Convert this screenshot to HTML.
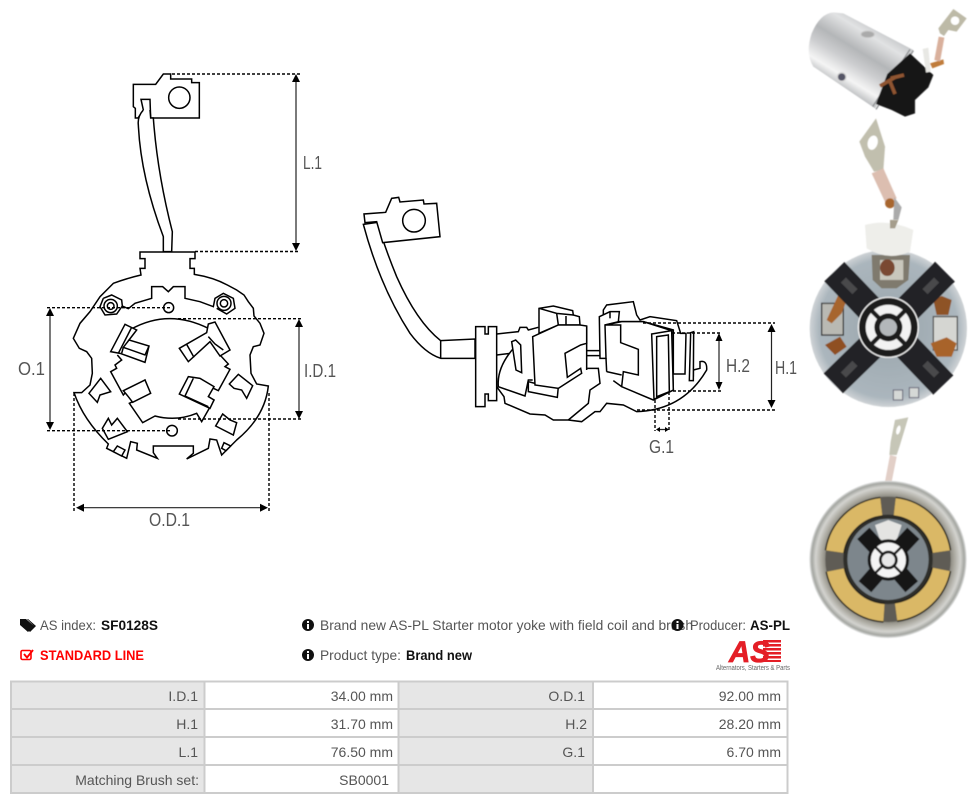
<!DOCTYPE html>
<html><head><meta charset="utf-8"><title>SF0128S</title>
<style>
html,body{margin:0;padding:0;background:#fff;width:976px;height:804px;overflow:hidden}
svg{display:block;position:absolute;left:0;top:0}
text{font-family:"Liberation Sans",sans-serif}
.t{font-size:14px;fill:#555}
.b{font-size:14px;font-weight:bold;fill:#111}
.r{text-anchor:end}
.d{font-size:18px;fill:#555}
.k{fill:none;stroke:#000;stroke-linejoin:miter}
.w{fill:#fff;stroke:#000;stroke-linejoin:miter}
.dash{fill:none;stroke:#000;stroke-width:1.4;stroke-dasharray:3 2}
.dim{stroke:#222;stroke-width:1.2;fill:none}
.ah{fill:#000}
</style></head><body>
<svg width="976" height="804" viewBox="0 0 976 804" xmlns="http://www.w3.org/2000/svg">
<defs>
<linearGradient id="cyl" gradientUnits="userSpaceOnUse" x1="235" y1="85" x2="125" y2="265">
<stop offset="0" stop-color="#c8cacc"/><stop offset=".15" stop-color="#e2e3e4"/><stop offset=".42" stop-color="#b4b6b8"/><stop offset=".62" stop-color="#cdced0"/><stop offset=".84" stop-color="#f5f5f5"/><stop offset="1" stop-color="#bcbec0"/>
</linearGradient>
<radialGradient id="disc"><stop offset="0" stop-color="#9aa5ac"/><stop offset=".88" stop-color="#abb6bd"/><stop offset="1" stop-color="#cfd3d6"/></radialGradient>
<radialGradient id="ring"><stop offset=".76" stop-color="#77756c"/><stop offset=".84" stop-color="#a9a79e"/><stop offset=".92" stop-color="#d4d4d0"/><stop offset=".97" stop-color="#a3a5a0"/><stop offset="1" stop-color="#e6e7e7"/></radialGradient>
<filter id="soft" x="-5%" y="-5%" width="110%" height="110%"><feGaussianBlur stdDeviation="1.6"/></filter>
</defs>

<!-- LEFT DRAWING: terminal and braid -->
<g transform="translate(120,60) scale(.33333)" stroke-width="4.5">
<path class="w" d="M40,73 L107,73 L130,42 L152,42 L152,57 L215,57 L215,68 L238,68 L238,174 L92,174 L90,118 L63,118 L70,150 L54,174 L46,174 L46,145 L40,140 Z"/>
<circle class="w" cx="178" cy="113" r="32"/>
<path class="w" d="M70,150 Q52,170 55,195 Q62,350 130,530 L130,575 L155,575 L157,515 Q112,340 100,174 L92,174 L90,150"/>
</g>

<!-- LEFT DRAWING: plate -->
<g transform="translate(40,240) scale(.33333)" stroke-width="4.5">
<path class="w" d="M300,36 L465,36 L465,56 L450,56 L450,85 L463,85 L463,103 Q520,112 562,135 L590,150 L612,165 L625,185 L640,205 L642,228 L660,250 L672,280 L660,315 L640,320 L630,345 L633,400 L650,432 L685,438 Q675,530 590,600 L545,645 L530,600 L510,597 L505,625 L440,657 L460,640 L460,618 L340,618 L340,638 L352,655 L290,630 L292,610 L272,605 L260,655 L200,625 L205,612 Q130,540 102,458 L125,458 L150,435 L157,400 L155,355 L140,335 L118,325 L100,295 L120,250 L150,215 L180,170 L220,130 Q260,115 303,105 L300,85 L315,85 L315,56 L300,56 Z"/>
<path class="k" d="M190,175 L215,165 L245,180 L247,198 L265,206 L285,190 L335,175 L335,140 L368,140 L385,155 L400,140 L435,140 L435,175 L480,185 L520,200 L525,175 L550,160 L580,175 L585,205 L560,222 L530,205 M190,175 L180,200 L195,225 L230,222 L247,198"/>
<circle class="k" cx="212" cy="198" r="20"/><circle class="k" cx="212" cy="198" r="10"/>
<circle class="k" cx="552" cy="190" r="21"/><circle class="k" cx="552" cy="190" r="11"/>
<circle class="w" cx="386" cy="203" r="15"/><circle class="w" cx="396" cy="572" r="16"/>
<!-- central opening -->
<path class="k" d="M272,268 Q385,205 505,265 M540,345 L565,372 L555,380 L570,388 L535,452 L510,440 L505,470 L522,480 L485,545 L470,520 Q410,545 345,528 L308,548 L268,490 L330,460 L315,420 L262,452 L250,465 L212,395 L230,385 L225,375 L245,360 L232,345"/>
<path class="w" d="M255,253 L290,270 L267,300 L327,318 L315,367 L240,340 L212,335 Z"/>
<path class="k" d="M275,262 L235,340 M267,300 L250,322 L315,345 L327,318 M250,322 L245,340"/>
<path class="w" d="M418,325 L500,278 L505,252 L525,246 L570,330 L540,348 L510,305 L445,365 Z"/>
<path class="k" d="M440,313 L462,352 M505,290 L525,312 L550,330"/>
<path class="w" d="M445,410 L480,415 L522,440 L505,470 L522,480 L510,505 L418,462 Z"/>
<path class="k" d="M460,415 L435,468 L505,500"/>
<path class="w" d="M250,452 L315,420 L332,460 L278,487 L265,470 Z"/>
<path class="w" d="M182,415 L212,455 L180,465 L172,487 L147,460 Z"/>
<path class="w" d="M595,403 L638,437 L620,475 L605,450 L582,445 L568,432 Z"/>
<path class="w" d="M205,535 L215,555 L232,535 L262,575 L205,598 L187,565 Z"/>
<path class="w" d="M548,522 L570,540 L590,548 L580,585 L527,558 Z"/>
<path class="w" d="M232,618 L255,630 L245,648 L220,635 Z"/>
<path class="w" d="M552,608 L572,618 L558,632 L545,625 Z"/>
</g>

<!-- LEFT DIMENSIONS -->
<path class="dash" d="M172,74H300M195,251.5H300M47,307.7H171M47,430.7H172M178,318.7H303M178,419H303M74,393V512M269,393V512"/>
<path class="dim" d="M296,78V247M50,312V426M299,323V415M80,507.7H263"/>
<path class="ah" d="M296,74l-4,8h8zM296,251l-4,-8h8zM50,308l-4,8h8zM50,430l-4,-8h8zM299,319l-4,8h8zM299,419l-4,-8h8zM76,507.7l8,-4v8zM268,507.7l-8,-4v8z"/>
<text class="d" x="303" y="169" textLength="19" lengthAdjust="spacingAndGlyphs">L.1</text>
<text class="d" x="18" y="375" textLength="27" lengthAdjust="spacingAndGlyphs">O.1</text>
<text class="d" x="304" y="377" textLength="32" lengthAdjust="spacingAndGlyphs">I.D.1</text>
<text class="d" x="149" y="526" textLength="41" lengthAdjust="spacingAndGlyphs">O.D.1</text>

<!-- RIGHT DRAWING -->
<g transform="translate(350,190) scale(.33333)" stroke-width="4.5">
<path class="w" d="M40,103 Q90,290 180,430 Q225,490 272,505 L375,505 L375,447 L272,452 Q200,395 140,260 Q105,175 82,97 Z"/>
<path class="k" d="M272,452V505"/>
<path class="w" d="M42,72 L45,98 L80,95 L98,158 L270,140 L260,40 L222,42 L220,30 L150,36 L146,22 L125,25 L107,67 Z"/>
<circle class="w" cx="192" cy="92" r="34"/>
<path class="k" d="M440,590 L462,620 L465,640 L540,672 L585,675 L610,690 L655,690 L695,695 L735,665 L750,665 L770,640 L820,645 L860,665 Q1000,660 1070,540 Q1072,510 1050,515 L1050,535 L1030,540 L1030,560"/>
<path class="k" d="M655,690 L715,640 L720,600 L750,580 L745,535 L712,535"/>
<path class="k" d="M440,432 L505,425 L510,412 L530,412 L535,420 L565,412 M710,408 V540 M710,482 H750 M710,497 H750"/>
<path class="w" d="M567,415 L567,355 L610,348 L668,362 L670,375 L688,380 L690,405 L625,405 L567,430 Z"/>
<path class="k" d="M567,355 L620,370 L670,375 M620,370 L625,405 M648,378 L648,405"/>
<path class="k" d="M440,495 L480,490 M495,470 Q440,530 445,590 L525,618 L535,570 L548,570"/>
<path class="w" d="M485,455 L497,450 L512,465 L515,548 L498,540 Z"/>
<path class="w" d="M535,575 L535,605 L622,622 L625,590 L555,580 Z"/>
<path class="w" d="M548,440 L625,405 L690,405 L710,408 L710,460 L692,465 L645,490 L652,562 L692,535 L695,550 L625,595 L555,585 Z"/>
<path class="w" d="M760,360 L770,345 L850,335 L860,375 L870,390 L900,380 L980,392 L992,430 L1008,430 L1005,552 L970,552 L970,420 L880,395 L810,395 L760,380 Z"/>
<path class="w" d="M748,380 L780,365 L808,365 L805,395 L765,405 L768,505 L750,505 Z"/>
<path class="k" d="M780,365 V385"/>
<path class="w" d="M765,405 L815,395 L880,395 L965,422 L970,600 L910,630 L815,590 L820,545 L865,555 L865,478 L812,458 L812,405 Z"/>
<path class="k" d="M770,545 L815,555 M790,572 L815,590 M768,505 L770,545"/>
<path class="w" d="M905,432 L965,422 L970,600 L912,628 Z"/>
<path class="w" d="M920,440 L955,435 L958,605 L920,620 Z"/>
<path class="w" d="M1022,428 L1031,425 L1030,572 L1018,572 Z"/>
<path class="w" d="M377,410 L405,410 L405,432 L415,432 L415,410 L440,410 L440,632 L415,632 L415,612 L405,612 L405,650 L377,650 Z"/>
</g>

<!-- RIGHT DIMENSIONS -->
<path class="dash" d="M643,323H775M637,410H775M672,333H722M673,391H722M655,400V431M669,392V431"/>
<path class="dim" d="M771.5,328V406M719,337V387M658,429.5H666"/>
<path class="ah" d="M771.5,324l-4,8h8zM771.5,408l-4,-8h8zM719,333l-3.5,8h7zM719,390l-3.5,-8h7zM656,429.5l4,-2.5v5zM669,429.5l-4,-2.5v5z"/>
<text class="d" x="726" y="372" textLength="24" lengthAdjust="spacingAndGlyphs">H.2</text>
<text class="d" x="775" y="374" textLength="22" lengthAdjust="spacingAndGlyphs">H.1</text>
<text class="d" x="649" y="453" textLength="25" lengthAdjust="spacingAndGlyphs">G.1</text>

<!-- PHOTO 1 -->
<g transform="translate(800,0) scale(.33333)" filter="url(#soft)">
<path d="M100,37 Q60,40 35,100 Q15,160 40,200 L225,325 L340,150 L130,40 Z" fill="url(#cyl)"/>
<path d="M330,148 L218,320 M340,152 L228,328" stroke="#8f9193" stroke-width="4" fill="none"/>
<ellipse cx="203" cy="103" rx="20" ry="10" fill="#aaa" stroke="#c9c9c9" stroke-width="3"/>
<circle cx="125" cy="231" r="13" fill="#556" stroke="#d5d5d5" stroke-width="4"/>
<path d="M228,312 L262,222 L330,160 L362,190 L400,225 L385,262 L345,300 L345,340 L315,350 L275,330 Z" fill="#161616"/>
<path d="M240,258 L285,232 M272,235 L312,225 M270,245 L285,282" stroke="#8f5430" stroke-width="11" fill="none"/>
<path d="M368,147 L385,143 L392,215 L378,218Z" fill="#e8e8e4"/>
<path d="M390,190 L430,178 L432,192 L397,205Z" fill="#c07c3a"/>
<path d="M416,110 L433,113 L420,185 L403,180Z" fill="#d9b09c"/>
<path d="M415,85 L460,27 L500,55 L470,95 L445,90 L432,108 L420,100 Z" fill="#bdbaa7"/>
<circle cx="465" cy="62" r="13" fill="#fff"/>
<path d="M178,425 L228,355 L255,440 L250,510 L222,515 L195,470 Z" fill="#c1bfae"/>
<ellipse cx="218" cy="428" rx="15" ry="22" fill="#fff" transform="rotate(15 218 428)"/>
<path d="M215,520 L250,505 L290,595 L258,612 Z" fill="#dcbeb0"/>
<circle cx="270" cy="610" r="15" fill="#a8662e"/>
<path d="M283,592 L305,622 L295,660 L280,660Z" fill="#aaa"/>
</g>

<!-- PHOTO 2 -->
<g transform="translate(800,220) scale(.33333)" filter="url(#soft)">
<circle cx="265" cy="325" r="236" fill="url(#disc)"/>
<path d="M215,105 H330 L325,180 L290,205 L245,205 L218,180Z" fill="#7f7a6e"/>
<path d="M240,120 H310 V180 H240Z" fill="#c9c7bc"/>
<ellipse cx="262" cy="143" rx="22" ry="25" fill="#7a4a30"/>
<path d="M195,15 Q265,-5 340,30 L330,95 Q265,125 200,85Z" fill="#eeeeea"/>
<path d="M270,0 L295,0 L285,25 L270,25Z" fill="#a59d8c"/>
<path d="M65,250 H130 V345 H65Z" fill="#b9b9b3" stroke="#333" stroke-width="4"/><path d="M400,290 H472 V390 H400Z" fill="#d5d6d2" stroke="#555" stroke-width="4"/>
<path d="M80,300 L115,225 L140,240 L125,280 L95,310Z" fill="#a7652f"/>
<path d="M75,375 L120,350 L140,380 L105,405Z" fill="#8f4f22"/>
<path d="M400,240 L425,228 L455,240 L445,285 L410,285Z" fill="#8e5327"/>
<path d="M392,370 L440,352 L470,370 L455,410 L410,410Z" fill="#a8642c"/>
<g stroke="#232325" stroke-width="84" fill="none"><path d="M215,272 L103,155"/><path d="M318,272 L435,155"/><path d="M215,378 L100,490"/><path d="M318,378 L430,495"/></g>
<g stroke="#4a4a4c" stroke-width="22" fill="none"><path d="M165,215 L130,180"/><path d="M375,215 L410,180"/><path d="M165,430 L130,465"/><path d="M375,430 L410,465"/></g>
<circle cx="265" cy="322" r="92" fill="#f2f2f2"/>
<circle cx="265" cy="322" r="88" fill="#1a1a1a"/>
<circle cx="265" cy="322" r="68" fill="#f2f2f2"/>
<path d="M210,267 L320,377 M320,267 L210,377" stroke="#1a1a1a" stroke-width="13"/>
<circle cx="265" cy="322" r="42" fill="#1a1a1a"/>
<circle cx="265" cy="322" r="26" fill="#b3b7ba"/>
<rect x="280" y="510" width="28" height="30" fill="#d5d8d6" stroke="#667" stroke-width="3"/>
<rect x="328" y="503" width="28" height="30" fill="#d5d8d6" stroke="#667" stroke-width="3"/>
</g>

<!-- PHOTO 3 -->
<g transform="translate(800,410) scale(.33333)" filter="url(#soft)">
<path d="M270,135 L290,140 L275,215 L255,215Z" fill="#e2cfc7"/>
<path d="M285,30 L325,22 L300,105 L290,135 L268,135 L272,95 Z" fill="#c6c6b7"/>
<ellipse cx="295" cy="60" rx="6" ry="14" fill="#fff" transform="rotate(15 295 60)"/>
<circle cx="264" cy="448" r="236" fill="url(#ring)"/>
<circle cx="264" cy="448" r="188" fill="#5e5c54"/>
<circle cx="264" cy="448" r="134" fill="#2e2d2a"/>
<circle cx="264" cy="448" r="122" fill="#7d868c"/>
<g fill="none" stroke="#1f1e1a" stroke-width="60">
<path d="M104,425 A160,160 0 0 1 244,290"/><path d="M284,290 A160,160 0 0 1 424,425"/>
<path d="M106,480 A160,160 0 0 0 252,608"/><path d="M288,606 A160,160 0 0 0 424,478"/>
</g>
<g fill="none" stroke="#dab866" stroke-width="52">
<path d="M104,425 A160,160 0 0 1 244,290"/><path d="M284,290 A160,160 0 0 1 424,425"/>
<path d="M106,480 A160,160 0 0 0 252,608"/><path d="M288,606 A160,160 0 0 0 424,478"/>
</g>
<path d="M265,330 L225,345 L240,390 L290,390 L305,345Z" fill="#e4e4e2"/>
<g stroke="#141416" stroke-width="50"><path d="M265,450 L190,370"/><path d="M265,450 L340,370"/><path d="M265,450 L195,530"/><path d="M265,450 L335,530"/></g>
<circle cx="265" cy="450" r="62" fill="#141414"/>
<circle cx="265" cy="450" r="53" fill="#f4f4f4"/>
<path d="M225,410 L305,490 M305,410 L225,490" stroke="#141414" stroke-width="7"/>
<circle cx="265" cy="450" r="28" fill="#141414"/><circle cx="265" cy="450" r="20" fill="#e8e8e8"/>
</g>

<!-- INFO ROWS -->
<g transform="translate(20,619)"><path d="M0,0 H6 L14,7 L8,13 L0,6Z M8,0 L16,7 L10,13 L9,12 L14,7 L7,0Z" fill="#111"/></g>
<text class="t" x="40" y="630" textLength="56" lengthAdjust="spacingAndGlyphs">AS index:</text>
<text class="b" x="101" y="630" textLength="57" lengthAdjust="spacingAndGlyphs">SF0128S</text>
<rect x="21" y="650.5" width="10" height="9" rx="1.5" fill="none" stroke="#f00" stroke-width="1.6"/>
<path d="M24,654 L27,657.5 L33,650" fill="none" stroke="#f00" stroke-width="1.9"/>
<text x="40" y="660" font-size="14" font-weight="bold" fill="#f00" textLength="104" lengthAdjust="spacingAndGlyphs">STANDARD LINE</text>

<text class="t" x="320" y="630" textLength="373" lengthAdjust="spacingAndGlyphs">Brand new AS-PL Starter motor yoke with field coil and brush</text>
<text class="t" x="320" y="660" textLength="81" lengthAdjust="spacingAndGlyphs">Product type:</text>
<text class="b" x="406" y="660" textLength="66" lengthAdjust="spacingAndGlyphs">Brand new</text>
<g fill="#111">
<circle cx="308" cy="625" r="6"/><circle cx="308" cy="655" r="6"/><circle cx="677.500" cy="625" r="6"/>
</g>
<g fill="#fff">
<rect x="307" y="621" width="2" height="2"/><rect x="307" y="624" width="2" height="5"/>
<rect x="307" y="651" width="2" height="2"/><rect x="307" y="654" width="2" height="5"/>
<rect x="676.500" y="621" width="2" height="2"/><rect x="676.500" y="624" width="2" height="5"/>
</g>
<text class="t" x="690" y="630" textLength="56" lengthAdjust="spacingAndGlyphs">Producer:</text>
<text class="b" x="750" y="630" textLength="40" lengthAdjust="spacingAndGlyphs">AS-PL</text>

<!-- LOGO -->
<g fill="#e41e26"><rect x="763" y="640" width="18" height="2.500"/><rect x="763" y="644" width="18" height="2.500"/><rect x="763" y="648" width="18" height="2.500"/><rect x="763" y="652" width="18" height="2.500"/><rect x="763" y="656" width="18" height="2.500"/><rect x="763" y="660" width="18" height="2"/></g>
<text x="729" y="662" font-size="30" font-weight="bold" font-style="italic" fill="#e41e26" stroke="#e41e26" stroke-width=".8" textLength="41" lengthAdjust="spacingAndGlyphs">AS</text>
<text x="716" y="670" font-size="7" fill="#666" textLength="74" lengthAdjust="spacingAndGlyphs">Alternators, Starters &amp; Parts</text>

<!-- TABLE -->
<rect x="11.500" y="682" width="775" height="111" fill="#fff"/>
<rect x="12" y="682" width="192" height="111" fill="#e6e6e6"/>
<rect x="399" y="682" width="193" height="111" fill="#e6e6e6"/>
<path d="M11,681.500H787.500V793H11ZM11,709H787M11,737H787M11,765H787M204.500,682V793M398.500,682V793M593,682V793" fill="none" stroke="#ccc" stroke-width="2"/>
<g class="t">
<text class="t r" x="198" y="701">I.D.1</text><text class="t r" x="393" y="701">34.00 mm</text><text class="t r" x="585" y="701">O.D.1</text><text class="t r" x="781" y="701">92.00 mm</text>
<text class="t r" x="198" y="729">H.1</text><text class="t r" x="393" y="729">31.70 mm</text><text class="t r" x="587" y="729">H.2</text><text class="t r" x="781" y="729">28.20 mm</text>
<text class="t r" x="198" y="757">L.1</text><text class="t r" x="393" y="757">76.50 mm</text><text class="t r" x="585" y="757">G.1</text><text class="t r" x="781" y="757">6.70 mm</text>
<text class="t r" x="199" y="785">Matching Brush set:</text><text class="t r" x="389" y="785">SB0001</text>
</g>
</svg>
</body></html>
